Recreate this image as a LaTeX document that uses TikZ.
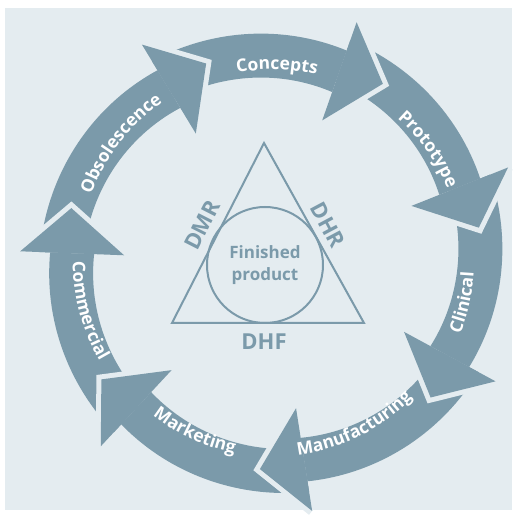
\documentclass[tikz,border=0pt]{standalone}
\usepackage{fontspec}
\setmainfont{Open Sans}
\usetikzlibrary{decorations.text}
\definecolor{ringblue}{RGB}{123,154,170}
\definecolor{paleblue}{RGB}{228,236,240}
\newcommand{\ringfont}{\fontsize{17.5}{20}\selectfont\bfseries}

\begin{document}
\begin{tikzpicture}[x=1pt, y=1pt,
  band/.style={fill=ringblue},
  gap/.style={draw=paleblue, line width=10pt, line join=miter},
  doc/.style={text=ringblue, font=\fontsize{22}{26}\selectfont\bfseries, inner sep=0pt}]
\useasboundingbox (-273,-255) rectangle (244,261);
\fill[paleblue] (-268,-249) rectangle (239,253);
% ring segments, tail angle / tip angle
\foreach \p/\q in {165.3/108.7, 108.7/58.2, 58.2/9.2, 9.2/-40.9, -40.9/-93.6, -93.6/-145.4, -145.4/-194.7}{
  \pgfmathsetmacro\ta{\p+12.5}
  \pgfmathsetmacro\tb{\q+12.5}
  \fill[band] plot[domain=\ta:\tb, samples=40, variable=\t] (\t:{201+8*(\t-\tb)/(\p-\tb)+22})
    -- plot[domain=\tb:\ta, samples=40, variable=\t] (\t:{201+8*(\t-\tb)/(\p-\tb)-22}) -- cycle;
}
% arrow heads
\foreach \q in {108.7, 58.2, 9.2, -40.9, -93.6, -145.4, -194.7}{
  \pgfmathsetmacro\tb{\q+12.5}
  \draw[gap] (\tb:253) -- (\q:208.5) -- (\tb:149);
  \fill[band] (\tb:253) -- (\q:208.5) -- (\tb:149) -- cycle;
}
% labels along the ring
\foreach \lab/\la/\rb/\sa in {Obsolescence/142.4/193.5/1, Concepts/88.8/191.5/1, Prototype/35.7/189/1,
  Clinical/-12.3/201/-1, Manufacturing/-63.6/195.5/-1, Marketing/-114.6/196/-1, Commercial/-164.9/200.3/-1}{
  \path[decorate, decoration={text along path, text align=center, text color=white,
      text/.expanded={|\noexpand\ringfont|\lab}}]
    ({\la+30*\sa}:\rb) arc[start angle={\la+30*\sa}, end angle={\la-30*\sa}, radius=\rb];
}
% triangle and product
\coordinate (apex) at (-9,118);
\coordinate (lft) at (-101,-62);
\coordinate (rgt) at (91,-62);
\draw[ringblue, line width=2pt, line join=miter] (apex) -- (lft) -- (rgt) -- cycle;
\node[circle, draw=ringblue, line width=2pt, minimum size=116pt, inner sep=0pt, align=center,
  text=ringblue, font=\fontsize{17}{22}\selectfont\bfseries] (product) at (-8,-4) {Finished\\product};
\node[doc, rotate=63] (dmr) at (-71,36) {DMR};
\node[doc, rotate=-62] (dhr) at (55,36) {DHR};
\node[doc] (dhf) at (-9,-81) {DHF};
\end{tikzpicture}
\end{document}
